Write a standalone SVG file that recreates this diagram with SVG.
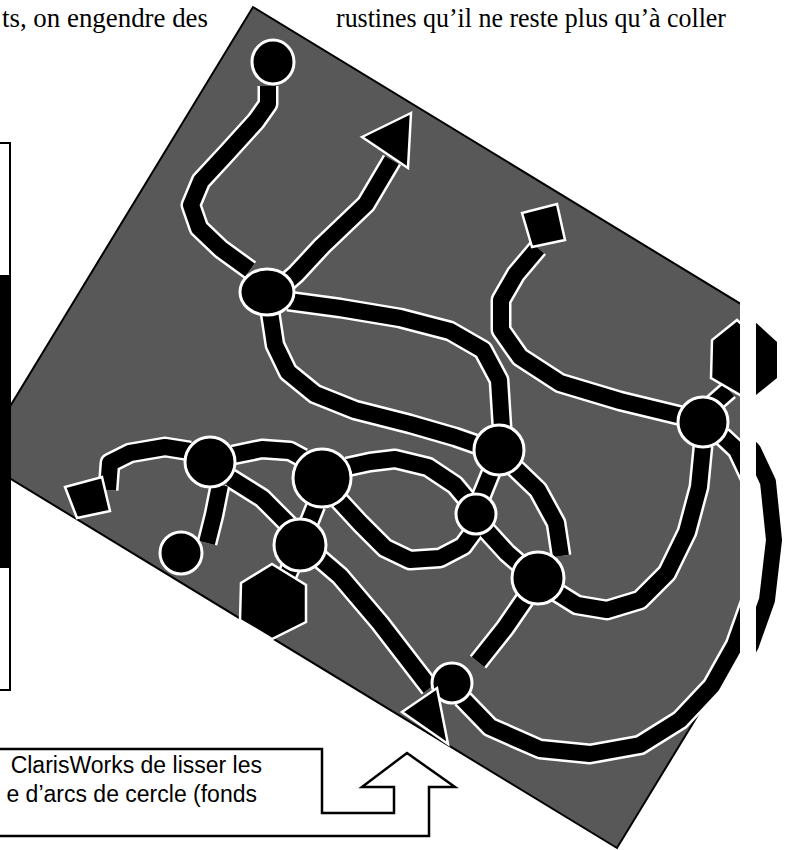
<svg xmlns="http://www.w3.org/2000/svg" xmlns:xlink="http://www.w3.org/1999/xlink" width="787" height="850" viewBox="0 0 787 850">
<style>
.bw{fill:none;stroke:#fff;stroke-width:21;stroke-linejoin:round;stroke-linecap:butt}
.bk{fill:none;stroke:#000;stroke-width:16;stroke-linejoin:round;stroke-linecap:butt}
.nd{fill:#000;stroke:#fff;stroke-width:3}
.sh{fill:#000;stroke:#fff;stroke-width:2.5;stroke-linejoin:miter}
.serif{font-family:"Liberation Serif","Times New Roman",serif;font-size:28px;fill:#000}
.sans{font-family:"Liberation Sans",Arial,sans-serif;font-size:23px;fill:#000}
</style>
<defs>
<path id="pA" d="M268,86 L268,104 L256,121 L226,154 L201,181 L191,205 L199,228 L221,249 L250,270"/>
<path id="pB" d="M392,160 L366,204 L322,246 L296,274 L280,288"/>
<path id="pa" d="M288,301 L340,308 L400,318 L450,331 L483,350 L499,380 L502,428"/>
<path id="pb" d="M270,312 L275,345 L288,372 L315,394 L355,410 L410,424 L455,437 L478,445"/>
<path id="psq" d="M538,248 L516,274 L501,300 L501,330 L520,357 L560,383 L620,401 L682,416"/>
<path id="pc" d="M513,466 L538,490 L556,523 L561,556"/>
<path id="pd" d="M492,470 L481,497"/>
<path id="p35" d="M486,530 L507,553 L522,566"/>
<path id="pe" d="M553,590 L577,605 L607,610 L640,600 L667,573 L687,532 L699,487 L703,446"/>
<path id="pf" d="M527,596 L505,628 L478,662"/>
<path id="ph" d="M462,698 L490,727 L540,749 L590,754 L640,745 L680,720 L712,686 L735,645 L751,600 L758,540 L752,482 L737,450 L722,436"/>
<path id="phx" d="M729,390 L713,404"/>
<path id="psa" d="M108,490 L110,463 L130,453 L165,447 L190,451"/>
<path id="pac" d="M220,485 L214,515 L207,543"/>
<path id="pab" d="M233,455 L262,449 L290,451 L303,458"/>
<path id="pan" d="M230,478 L262,498 L288,524 L312,552 L340,576 L380,623 L430,688"/>
<path id="pbu" d="M347,467 L370,462 L395,459 L428,467 L455,485 L470,503"/>
<path id="pbl" d="M336,497 L360,523 L385,548 L410,560 L440,558 L463,546 L474,531"/>
<path id="pbh" d="M316,505 L306,530 L296,555 L286,578"/>
<g id="bandsW" class="bw">
<use xlink:href="#pA"/><use xlink:href="#pB"/><use xlink:href="#pa"/><use xlink:href="#pb"/><use xlink:href="#psq"/><use xlink:href="#pc"/><use xlink:href="#pd"/><use xlink:href="#p35"/><use xlink:href="#pe"/><use xlink:href="#pf"/><use xlink:href="#ph"/><use xlink:href="#phx"/><use xlink:href="#psa"/><use xlink:href="#pac"/><use xlink:href="#pab"/><use xlink:href="#pan"/><use xlink:href="#pbu"/><use xlink:href="#pbl"/><use xlink:href="#pbh"/>
</g>
<g id="bandsK" class="bk">
<use xlink:href="#pA"/><use xlink:href="#pB"/><use xlink:href="#pa"/><use xlink:href="#pb"/><use xlink:href="#psq"/><use xlink:href="#pc"/><use xlink:href="#pd"/><use xlink:href="#p35"/><use xlink:href="#pe"/><use xlink:href="#pf"/><use xlink:href="#ph"/><use xlink:href="#phx"/><use xlink:href="#psa"/><use xlink:href="#pac"/><use xlink:href="#pab"/><use xlink:href="#pan"/><use xlink:href="#pbu"/><use xlink:href="#pbl"/><use xlink:href="#pbh"/>
</g>
<polygon id="hexR" points="737,320 761,342 761,378 740,395 711,378 712,340"/>
<clipPath id="cl"><rect x="0" y="0" width="740" height="850"/></clipPath>
<clipPath id="cr"><rect x="740" y="0" width="60" height="850"/></clipPath>
</defs>

<text class="serif" x="2" y="27" textLength="206" lengthAdjust="spacingAndGlyphs">ts, on engendre des</text>
<text class="serif" x="336" y="27" textLength="390" lengthAdjust="spacingAndGlyphs">rustines qu’il ne reste plus qu’à coller</text>

<g id="scene" clip-path="url(#cl)">
<polygon id="plate" points="253,7 892,396 617,848 -22,459" fill="#585858" stroke="#000" stroke-width="2"/>
<use xlink:href="#bandsW"/>
<g id="connectors"><use xlink:href="#bandsK"/></g>
<g id="n1"><ellipse class="nd" cx="267" cy="292" rx="27" ry="23"/></g>
<g id="n2"><circle class="nd" cx="499" cy="450" r="25"/></g>
<g id="n3"><circle class="nd" cx="476" cy="514" r="20"/></g>
<g id="n5"><circle class="nd" cx="538" cy="578" r="26"/></g>
<g id="nr"><circle class="nd" cx="703" cy="422" r="25"/></g>
<g id="nb"><circle class="nd" cx="452" cy="683" r="20"/></g>
<g id="na"><circle class="nd" cx="210" cy="462" r="25"/></g>
<g id="nbb"><circle class="nd" cx="322" cy="478" r="29"/></g>
<g id="nc"><circle class="nd" cx="300" cy="545" r="26"/></g>
<g id="topcircle"><ellipse class="nd" cx="273" cy="62" rx="21" ry="22"/></g>
<g id="toptriangle"><polygon class="sh" points="362,137 411,113 408,168"/></g>
<g id="topsquare"><polygon class="sh" points="522,213 557,204 565,240 532,247"/></g>
<g id="hexright"><use xlink:href="#hexR" class="sh"/></g>
<g id="leftsquare"><polygon class="sh" points="65,487 102,477 110,511 77,518"/></g>
<g id="leftcircle"><circle class="nd" cx="181" cy="553" r="21"/></g>
<g id="lefthex"><polygon class="sh" points="272,564 306,585 306,622 272,639 240,620 241,583"/></g>
<g id="bottomtriangle"><polygon class="sh" points="402,712 448,744 437,688"/></g>
</g>

<g id="shifted" transform="translate(16,0)" clip-path="url(#cr)">
<use xlink:href="#bandsK"/>
<use xlink:href="#hexR" fill="#000"/>
</g>

<g id="leftbox">
<rect x="-3" y="143" width="13" height="547" fill="#fff" stroke="#000" stroke-width="2"/>
<rect x="0" y="275" width="9" height="293" fill="#000"/>
</g>

<g id="bottombox">
<polygon points="-3,749 322,749 322,813 394,813 394,787 362,787 407,753 455,787 429,787 429,836 -3,836" fill="#fff" stroke="#000" stroke-width="2.5"/>
<text class="sans" x="262" y="773" text-anchor="end">ClarisWorks de lisser les</text>
<text class="sans" x="257" y="802" text-anchor="end">e d’arcs de cercle (fonds</text>
</g>
</svg>
